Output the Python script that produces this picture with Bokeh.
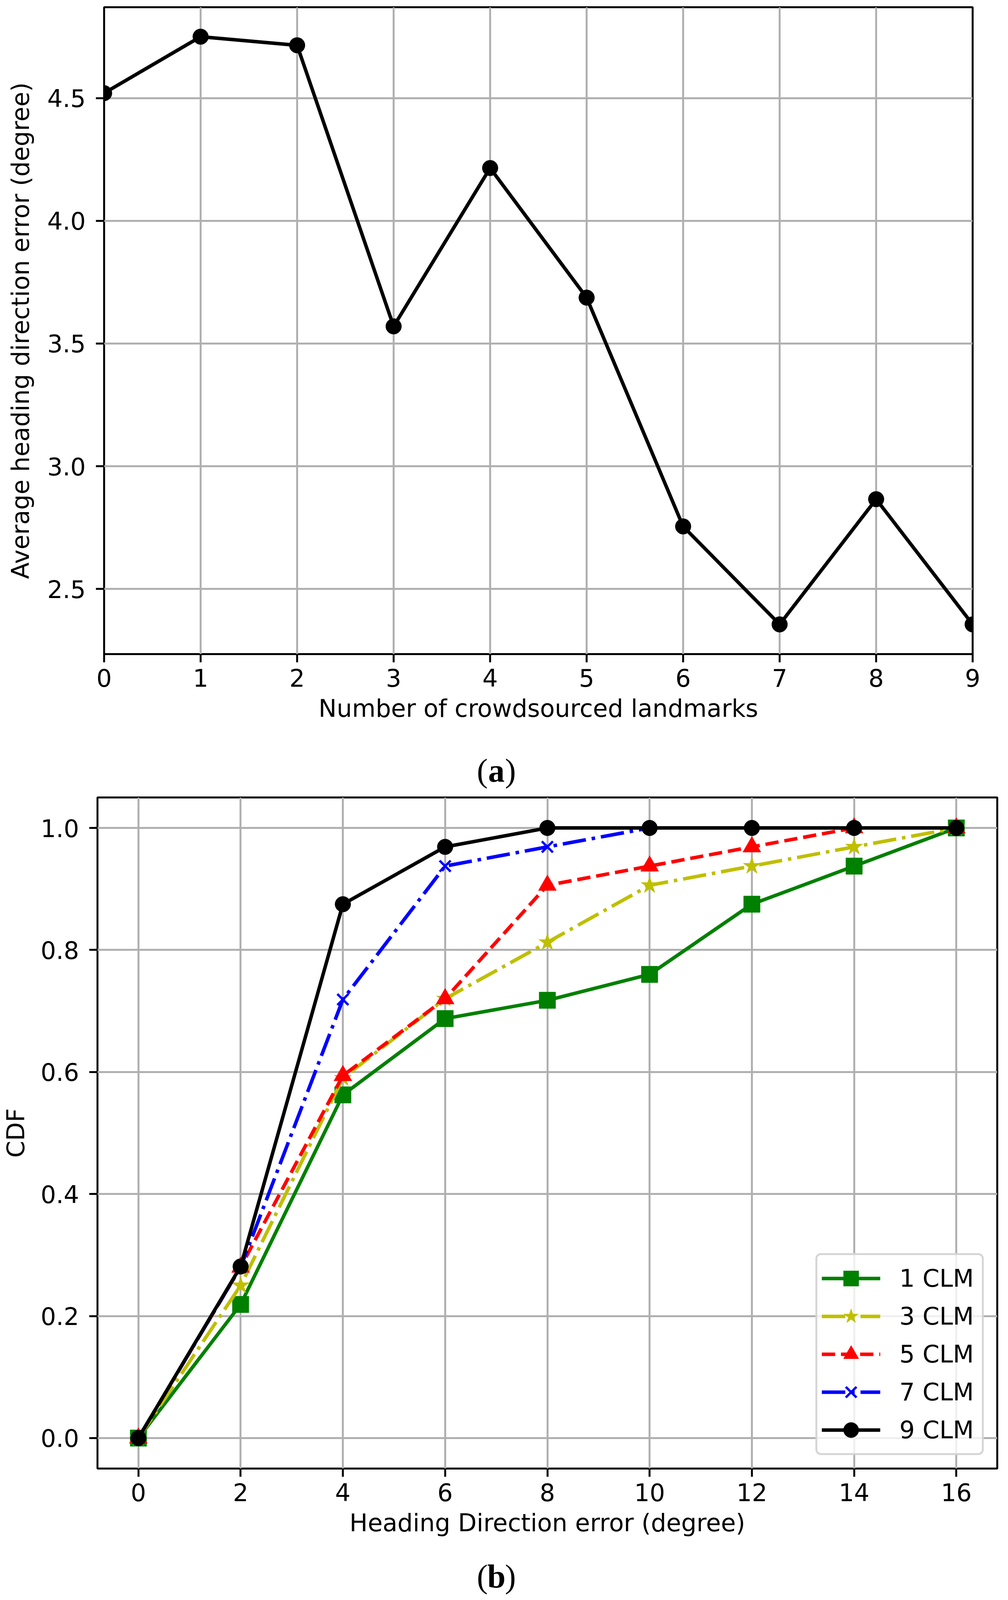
from bokeh.plotting import figure
from bokeh.models import Range1d, FixedTicker
from bokeh.embed import file_html
from bokeh.resources import INLINE
from bokeh.core.properties import value

# ---------------- data: panel (a) ----------------
a_x = [0, 1, 2, 3, 4, 5, 6, 7, 8, 9]
a_err = [4.52, 4.75, 4.715, 3.57, 4.215, 3.687, 2.755, 2.356, 2.866, 2.356]
a_xticks = [0, 1, 2, 3, 4, 5, 6, 7, 8, 9]
a_xlabels = ["0", "1", "2", "3", "4", "5", "6", "7", "8", "9"]
a_yticks = [2.5, 3.0, 3.5, 4.0, 4.5]
a_ylabels = ["2.5", "3.0", "3.5", "4.0", "4.5"]

# ---------------- data: panel (b) ----------------
b_x = [0, 2, 4, 6, 8, 10, 12, 14, 16]
cdf_1 = [0.0, 0.219, 0.5625, 0.6875, 0.7175, 0.76, 0.875, 0.9375, 1.0]
cdf_3 = [0.0, 0.25, 0.59, 0.72, 0.8125, 0.906, 0.9375, 0.969, 1.0]
cdf_5 = [0.0, 0.28, 0.594, 0.72, 0.906, 0.9375, 0.969, 1.0, 1.0]
cdf_7 = [0.0, 0.28, 0.71875, 0.9375, 0.969, 1.0, 1.0, 1.0, 1.0]
cdf_9 = [0.0, 0.28125, 0.875, 0.969, 1.0, 1.0, 1.0, 1.0, 1.0]
series_names = ["1 CLM", "3 CLM", "5 CLM", "7 CLM", "9 CLM"]
b_xticks = [0, 2, 4, 6, 8, 10, 12, 14, 16]
b_xlabels = ["0", "2", "4", "6", "8", "10", "12", "14", "16"]
b_yticks = [0.0, 0.2, 0.4, 0.6, 0.8, 1.0]
b_ylabels = ["0.0", "0.2", "0.4", "0.6", "0.8", "1.0"]

panel_a_tag = ["(", "a", ")"]
panel_b_tag = ["(", "b", ")"]

FONT = "DejaVu Sans"
FS = "62px"


def style_axes(p, xticks, xlabels, yticks, ylabels, xlabel, ylabel, ylab_standoff):
    p.xaxis.ticker = FixedTicker(ticks=xticks)
    p.yaxis.ticker = FixedTicker(ticks=yticks)
    p.xaxis.major_label_overrides = dict(zip(xticks, xlabels))
    p.yaxis.major_label_overrides = dict(zip(yticks, ylabels))
    p.xaxis.axis_label = xlabel
    p.yaxis.axis_label = ylabel
    for ax in (p.xaxis, p.yaxis):
        ax.axis_line_color = None
        ax.major_tick_out = 21
        ax.major_tick_in = 0
        ax.major_tick_line_width = 5
        ax.major_tick_line_color = "black"
        ax.minor_tick_line_color = None
        ax.major_label_text_font = FONT
        ax.major_label_text_font_size = FS
        ax.major_label_text_color = "black"
        ax.axis_label_text_font = FONT
        ax.axis_label_text_font_size = FS
        ax.axis_label_text_font_style = "normal"
        ax.axis_label_text_color = "black"
    p.xaxis.major_label_standoff = 16
    p.xaxis.axis_label_standoff = 16
    p.yaxis.major_label_standoff = 26
    p.yaxis.axis_label_standoff = ylab_standoff
    p.xgrid.grid_line_color = "#b0b0b0"
    p.ygrid.grid_line_color = "#b0b0b0"
    p.xgrid.grid_line_width = 5
    p.ygrid.grid_line_width = 5
    p.outline_line_color = "black"
    p.outline_line_width = 5
    p.outline_line_alpha = 1.0
    p.background_fill_color = "white"
    p.border_fill_color = "white"


# ---------------- panel (a) ----------------
p1 = figure(width=2564, height=1892, x_range=Range1d(0, 9), y_range=Range1d(2.235, 4.87),
            output_backend="svg", toolbar_location=None,
            min_border_left=266, min_border_right=75, min_border_top=18, min_border_bottom=218)
style_axes(p1, a_xticks, a_xlabels, a_yticks, a_ylabels,
           "Number of crowdsourced landmarks", "Average heading direction error (degree)", 29)
p1.line(a_x, a_err, line_color="black", line_width=9)
p1.scatter(a_x, a_err, marker="circle", size=40, fill_color="black", line_color="black")


def tag_fig(tag, height, ymid):
    t = figure(width=2564, height=height, x_range=Range1d(0, 2564), y_range=Range1d(0, height),
               output_backend="svg", toolbar_location=None, x_axis_type=None, y_axis_type=None,
               min_border=0)
    t.outline_line_color = None
    t.grid.visible = False
    cx = 1270
    t.text(x=[cx - 22], y=[ymid], text=[tag[0]], text_font=value("Liberation Serif"),
           text_font_size="84px", text_align="right", text_baseline="middle", text_color="black")
    t.text(x=[cx], y=[ymid], text=[tag[1]], text_font=value("Liberation Serif"),
           text_font_size="84px", text_font_style="bold", text_align="center",
           text_baseline="middle", text_color="black")
    t.text(x=[cx + 22], y=[ymid], text=[tag[2]], text_font=value("Liberation Serif"),
           text_font_size="84px", text_align="left", text_baseline="middle", text_color="black")
    return t


tag_a = tag_fig(panel_a_tag, 140, 60)

# ---------------- panel (b) ----------------
p2 = figure(width=2564, height=1930, x_range=Range1d(-0.8, 16.8), y_range=Range1d(-0.05, 1.05),
            output_backend="svg", toolbar_location=None,
            min_border_left=246, min_border_right=12, min_border_top=9, min_border_bottom=203)
style_axes(p2, b_xticks, b_xlabels, b_yticks, b_ylabels,
           "Heading Direction error (degree)", "CDF", 24)

styles = [
    (cdf_1, "#008000", "solid", "square", 42, 1),
    (cdf_3, "#bfbf00", "60 15 9 15", "star", 46, 1),
    (cdf_5, "#ff0000", "34 15", "triangle", 46, 1),
    (cdf_7, "#0000ff", "60 15 9 15", "x", 40, 6),
    (cdf_9, "black", "solid", "circle", 40, 1),
]
for name, (ys, col, dash, mk, sz, mlw) in zip(series_names, styles):
    p2.line(b_x, ys, line_color=col, line_width=9, line_dash=dash, legend_label=name)
    p2.scatter(b_x, ys, marker=mk, size=sz, fill_color=col, line_color=col,
               line_width=mlw, legend_label=name)

lg = p2.legend[0]
lg.location = "bottom_right"
lg.margin = 34
lg.padding = 11
lg.spacing = 0
lg.glyph_width = 150
lg.glyph_height = 97
lg.label_standoff = 49
lg.label_width = 200
lg.label_height = 62
lg.label_text_font = FONT
lg.label_text_font_size = FS
lg.label_text_color = "black"
lg.border_line_color = "#cccccc"
lg.border_line_width = 5
lg.border_line_alpha = 0.8
lg.background_fill_color = "white"
lg.background_fill_alpha = 0.8
if "border_radius" in lg.properties():
    lg.border_radius = 14

tag_b = tag_fig(panel_b_tag, 125, 52)

# separate roots so that Bokeh does not align the two plot frames
open("out.html", "w").write(file_html([p1, tag_a, p2, tag_b], INLINE))
